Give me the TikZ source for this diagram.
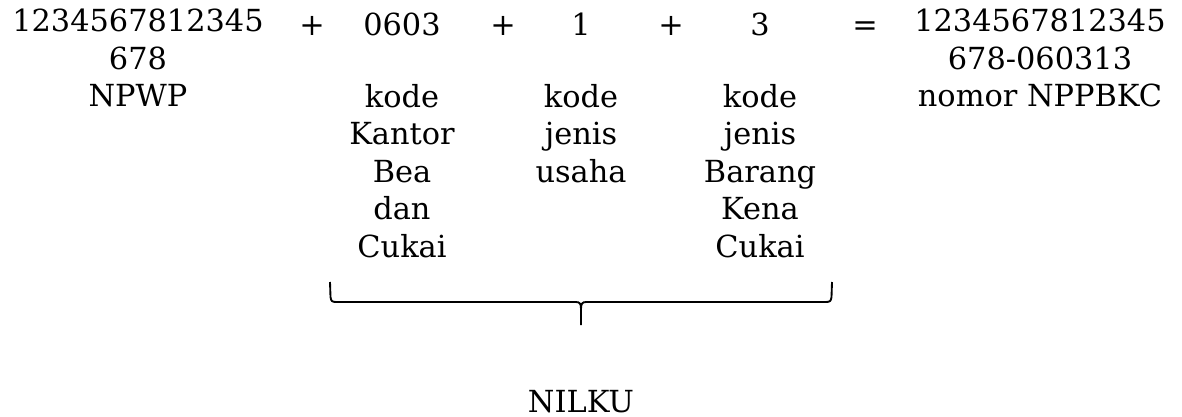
\documentclass[tikz,border=0pt]{standalone}
\usepackage{fontspec}
\setmainfont{DejaVu Serif}
\tikzset{every picture/.style={line width=0.75pt}}
\tikzset{txt/.style={anchor=north,inner sep=0pt,align=center,font=\fontsize{22.8}{28.1}\selectfont,execute at begin node=\strut}}

\begin{document}
\begin{tikzpicture}[x=0.75pt,y=0.75pt,yscale=-1,xscale=1]
\useasboundingbox (0,0) rectangle (1182,417);

% Text Node
\node (npwp) [txt] at (138,8.8) {1234567812345\\678\\NPWP};
% Text Node
\node (plusa) [txt] at (312,8.8) {+};
% Text Node
\node (kantor) [txt] at (402,8.8) {0603};
% Text Node
\node (plusb) [txt] at (503,8.8) {+};
% Text Node
\node (usaha) [txt] at (581,8.8) {1};
% Text Node
\node (plusc) [txt] at (671,8.8) {+};
% Text Node
\node (bkc) [txt] at (760,8.8) {3};
% Text Node
\node (sama) [txt] at (865,8.8) {=};
% Text Node
\node (nppbkc) [txt] at (1040,8.8) {1234567812345\\678-060313\\nomor NPPBKC};

% Text Node
\node (kantorket) [txt] at (402,83.8) {kode\\Kantor\\Bea\\dan\\Cukai};
% Text Node
\node (usahaket) [txt] at (581,83.8) {kode\\jenis\\usaha};
% Text Node
\node (bkcket) [txt] at (760,83.8) {kode\\jenis\\Barang\\Kena\\Cukai};

%Shape: Brace
\draw [line width=1.4pt] (330,282) -- (330.5,297) .. controls (331,301) and (332,302) .. (336,302) -- (576,302) .. controls (580,302) and (581,304) .. (581,309) -- (581,325) ;
\draw [line width=1.4pt] (832,282) -- (831.5,297) .. controls (831,301) and (830,302) .. (826,302) -- (586,302) .. controls (582,302) and (581,304) .. (581,309) ;

% Text Node
\node (nilku) [txt,anchor=base] at (581,412) {NILKU};
\end{tikzpicture}
\end{document}
